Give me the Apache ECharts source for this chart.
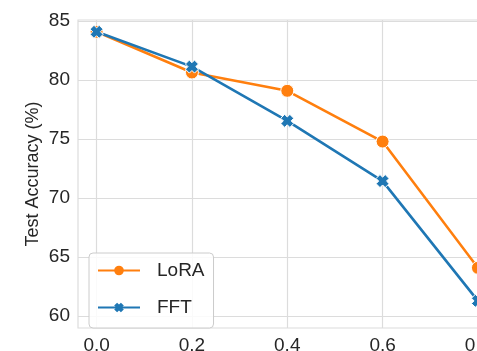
<!DOCTYPE html>
<html>
<head>
<meta charset="utf-8">
<script src="https://cdn.jsdelivr.net/npm/echarts@6/dist/echarts.min.js"></script>
<style>
  html, body { margin: 0; padding: 0; background: #fff; }
  #chart { width: 477px; height: 351px; }
</style>
</head>
<body>
<div id="chart"></div>
<script>
var ratios = [0.0, 0.2, 0.4, 0.6, 0.8];
var loraAcc = [84.1, 80.65, 79.1, 74.8, 64.1];
var fftAcc = [84.1, 81.15, 76.55, 71.45, 61.3];
var xTicks = [0.0, 0.2, 0.4, 0.6, 0.8];
var yTicks = [60, 65, 70, 75, 80, 85];

var FONT = "Liberation Sans, Arial, sans-serif";
var TEXT = "#262626";
var GRID = "#dcdcdc";
// filled "X" marker, like matplotlib's 'X'
var xMark = "path://M0,3 L3,0 L5,2 L7,0 L10,3 L8,5 L10,7 L7,10 L5,8 L3,10 L0,7 L2,5 Z";

function pairs(ys) {
    return ratios.map(function (x, i) { return [x, ys[i]]; });
}

var chart = echarts.init(document.getElementById("chart"));
var option = {
    animation: false,
    grid: { left: 78, top: 20, right: -20, bottom: 23, outerBoundsMode: "none",
        show: true, borderColor: GRID, borderWidth: 1.2 },
    legend: {
        orient: "vertical", left: 89, top: 253,
        padding: [8, 9, 11, 8],
        itemWidth: 42, itemHeight: 12, itemGap: 18,
        backgroundColor: "rgba(255,255,255,0.85)",
        borderColor: "#cccccc", borderWidth: 1, borderRadius: 4,
        itemStyle: { borderWidth: 0 },
        textStyle: { fontFamily: FONT, fontSize: 19, color: TEXT, padding: [0, 0, 0, 12] },
        data: ["LoRA", "FFT"]
    },
    xAxis: {
        type: "value", min: -0.039, max: 0.84,
        axisLine: { show: false }, axisTick: { show: false, customValues: xTicks },
        axisLabel: { customValues: xTicks, margin: 8, fontFamily: FONT, fontSize: 19, color: TEXT,
            formatter: function (v) { return v.toFixed(1); } },
        splitLine: { show: true, lineStyle: { color: GRID, width: 1.2 } }
    },
    yAxis: {
        type: "value", min: 59, max: 85.1,
        name: "Test Accuracy (%)", nameLocation: "middle", nameGap: 36, nameMoveOverlap: false,
        nameTextStyle: { fontFamily: FONT, fontSize: 18, color: TEXT },
        axisLine: { show: false }, axisTick: { show: false, customValues: yTicks },
        axisLabel: { customValues: yTicks, margin: 8, fontFamily: FONT, fontSize: 19, color: TEXT },
        splitLine: { show: true, lineStyle: { color: GRID, width: 1.2 } }
    },
    series: [{
        name: "LoRA", type: "line", data: pairs(loraAcc),
        symbol: "circle", symbolSize: 13,
        lineStyle: { color: "#ff7f0e", width: 2.6 },
        itemStyle: { color: "#ff7f0e", borderColor: "#fff", borderWidth: 1 }
    }, {
        name: "FFT", type: "line", data: pairs(fftAcc),
        symbol: xMark, symbolSize: 13,
        lineStyle: { color: "#1f77b4", width: 2.6 },
        itemStyle: { color: "#1f77b4", borderColor: "#fff", borderWidth: 1 }
    }]
};
chart.setOption(option);
</script>
</body>
</html>
